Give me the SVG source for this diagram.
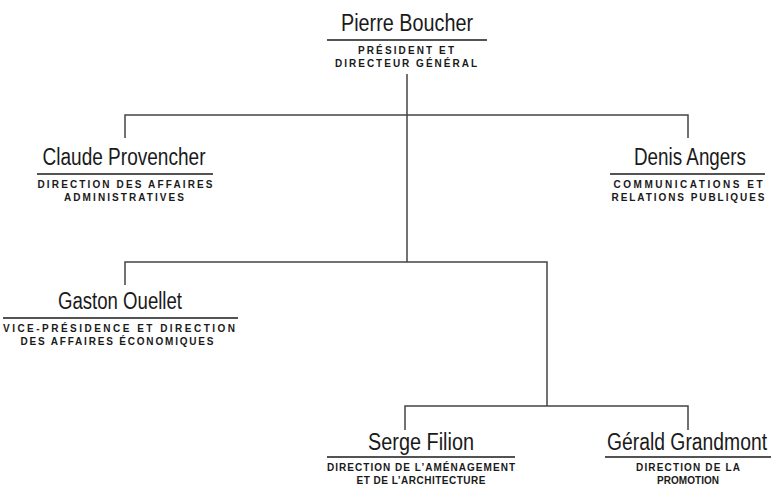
<svg xmlns="http://www.w3.org/2000/svg" width="773" height="494" viewBox="0 0 773 494">
<style>
.name{font-family:"Liberation Sans Narrow","Liberation Sans",Arial,sans-serif;font-size:23px;fill:#1a1a1a;text-anchor:middle}
.sub{font-family:"Liberation Sans",Arial,sans-serif;font-size:10px;font-weight:bold;fill:#1a1a1a;text-anchor:middle}
.ul{stroke:#1a1a1a;stroke-width:1.5}
.conn{stroke:#444;stroke-width:1.5;fill:none}
</style>
<rect width="773" height="494" fill="#fff"/>
<g id="connectors">
<path class="conn" d="M407 74V262"/>
<path class="conn" d="M125 138V115H688V138"/>
<path class="conn" d="M125 285V262H547V406"/>
<path class="conn" d="M405 430V406H688V430"/>
</g>
<g id="pierre-boucher">
<text class="name" x="407" y="31" textLength="132" lengthAdjust="spacingAndGlyphs">Pierre Boucher</text>
<line class="ul" x1="327" y1="40" x2="487" y2="40"/>
<text class="sub" x="406" y="54" textLength="96" lengthAdjust="spacing">PRÉSIDENT ET</text>
<text class="sub" x="406" y="67" textLength="142" lengthAdjust="spacing">DIRECTEUR GÉNÉRAL</text>
</g>
<g id="claude-provencher">
<text class="name" x="124" y="165" textLength="163" lengthAdjust="spacingAndGlyphs">Claude Provencher</text>
<line class="ul" x1="37" y1="174" x2="213" y2="174"/>
<text class="sub" x="125" y="188" textLength="175" lengthAdjust="spacing">DIRECTION DES AFFAIRES</text>
<text class="sub" x="124" y="201" textLength="120" lengthAdjust="spacing">ADMINISTRATIVES</text>
</g>
<g id="denis-angers">
<text class="name" x="690" y="165" textLength="112" lengthAdjust="spacingAndGlyphs">Denis Angers</text>
<line class="ul" x1="610" y1="174" x2="765" y2="174"/>
<text class="sub" x="688" y="188" textLength="149" lengthAdjust="spacing">COMMUNICATIONS ET</text>
<text class="sub" x="688" y="201" textLength="153" lengthAdjust="spacing">RELATIONS PUBLIQUES</text>
</g>
<g id="gaston-ouellet">
<text class="name" x="120" y="309" textLength="124" lengthAdjust="spacingAndGlyphs">Gaston Ouellet</text>
<line class="ul" x1="3" y1="318" x2="238" y2="318"/>
<text class="sub" x="119" y="332" textLength="232" lengthAdjust="spacing">VICE-PRÉSIDENCE ET DIRECTION</text>
<text class="sub" x="117" y="345" textLength="193" lengthAdjust="spacing">DES AFFAIRES ÉCONOMIQUES</text>
</g>
<g id="serge-filion">
<text class="name" x="421" y="450" textLength="106" lengthAdjust="spacingAndGlyphs">Serge Filion</text>
<line class="ul" x1="327" y1="457" x2="515" y2="457"/>
<text class="sub" x="421" y="471" textLength="188" lengthAdjust="spacing">DIRECTION DE L’AMÉNAGEMENT</text>
<text class="sub" x="421" y="484" textLength="129" lengthAdjust="spacing">ET DE L’ARCHITECTURE</text>
</g>
<g id="gerald-grandmont">
<text class="name" x="687" y="450" textLength="160" lengthAdjust="spacingAndGlyphs">Gérald Grandmont</text>
<line class="ul" x1="605" y1="457" x2="771" y2="457"/>
<text class="sub" x="688" y="471" textLength="104" lengthAdjust="spacing">DIRECTION DE LA</text>
<text class="sub" x="688" y="484" textLength="62" lengthAdjust="spacing">PROMOTION</text>
</g>
</svg>
